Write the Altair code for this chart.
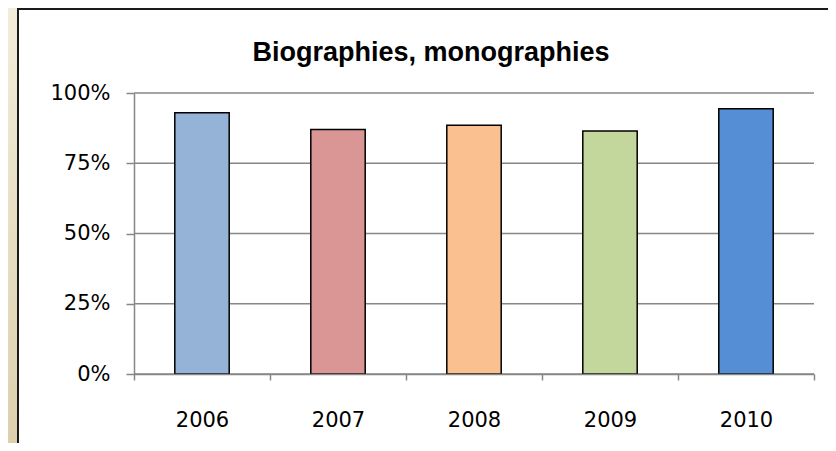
import altair as alt
import pandas as pd

years = ["2006", "2007", "2008", "2009", "2010"]
shares = [0.93, 0.87, 0.885, 0.865, 0.944]
bar_colors = ["#95B3D7", "#D99694", "#FAC090", "#C3D69B", "#558ED5"]
y_ticks = [0, 0.25, 0.5, 0.75, 1.0]
title_text = ["Biographies, monographies"]

GRAY = "#878787"
W, H = 680, 281

df = pd.DataFrame({"year": years, "share": shares})
grid_df = pd.DataFrame({"v": y_ticks})
panel_df = pd.DataFrame({"p": [0]})
title_df = pd.DataFrame({"t": title_text})

y_scale = alt.Scale(domain=[0, 1], nice=False, zero=True)
y_axis = alt.Axis(
    title=None, values=y_ticks, format=".0%", tickSize=8,
    labelPadding=16, labelFontSize=21, labelFont="DejaVu Sans",
    labelColor="black", domainColor=GRAY, tickColor=GRAY,
    domainWidth=1.5, tickWidth=1.5, grid=False, zindex=1,
)

backdrop = alt.Chart(panel_df).mark_rect(
    color=alt.Gradient(
        gradient="linear",
        stops=[
            alt.GradientStop(color="#F3ECDA", offset=0),
            alt.GradientStop(color="#DCD0AD", offset=1),
        ],
        x1=0, x2=0, y1=0, y2=1,
    )
).encode(
    x=alt.value(-126), x2=alt.value(W + 14),
    y=alt.value(-85), y2=alt.value(H + 69),
)

panel = alt.Chart(panel_df).mark_rect(
    fill="white", stroke="#1a1a1a", strokeWidth=2
).encode(
    x=alt.value(-116), x2=alt.value(W + 30),
    y=alt.value(-84), y2=alt.value(H + 90),
)

title = alt.Chart(title_df).mark_text(
    font="Liberation Sans", fontSize=27, fontWeight="bold", color="black",
    align="center", baseline="alphabetic",
).encode(
    text="t:N", x=alt.value(297), y=alt.value(-32),
)

grid = alt.Chart(grid_df).mark_rule(color=GRAY, strokeWidth=1.3).encode(
    y=alt.Y("v:Q", scale=y_scale, axis=y_axis)
)

bars = alt.Chart(df).mark_bar(
    stroke="black", strokeWidth=1.5, width=alt.RelativeBandSize(0.4)
).encode(
    x=alt.X(
        "year:N",
        sort=years,
        scale=alt.Scale(paddingInner=0, paddingOuter=0),
        axis=alt.Axis(
            title=None, labelAngle=0, tickBand="extent", tickSize=6,
            labelPadding=29, labelFontSize=21, labelFont="DejaVu Sans",
            labelColor="black", domainColor=GRAY, tickColor=GRAY,
            domainWidth=1.5, tickWidth=1.5, grid=False, zindex=1,
        ),
    ),
    y=alt.Y("share:Q", scale=y_scale, axis=y_axis),
    color=alt.Color("year:N", scale=alt.Scale(domain=years, range=bar_colors), legend=None),
)

chart = alt.layer(backdrop, panel, title, grid, bars).properties(
    width=W,
    height=H,
    autosize=alt.AutoSizeParams(type="none"),
    padding={"left": 126, "top": 85, "right": 14, "bottom": 69},
).configure(
    background="#EFE6CD"
).configure_view(
    stroke=None
)

chart.save("out.html", embed_options={"renderer": "svg", "actions": False})
